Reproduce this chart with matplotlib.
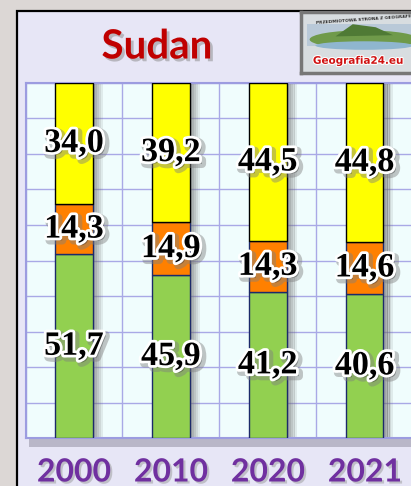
import numpy as np
import matplotlib
matplotlib.use("Agg")
import matplotlib.pyplot as plt
import matplotlib.patheffects as pe
from matplotlib.patches import Rectangle, Ellipse, Polygon

years = ["2000", "2010", "2020", "2021"]
green_vals = [51.7, 45.9, 41.2, 40.6]
orange_vals = [14.3, 14.9, 14.3, 14.6]
yellow_vals = [34.0, 39.2, 44.5, 44.8]

W, H = 411, 486
fig = plt.figure(figsize=(W / 100, H / 100), dpi=100)
fig.patch.set_facecolor("#dcd7d5")


def fx(px):
    return px / W


def fy(py):
    return 1 - py / H


# panel with black frame
fig.patches.append(Rectangle((fx(17), fy(500)), fx(420), fy(11) - fy(500),
                             transform=fig.transFigure, facecolor="#e7e6f6",
                             edgecolor="black", linewidth=1.6, zorder=-2))
# shadow under the plot box
fig.patches.append(Rectangle((fx(29), fy(447)), fx(400), fy(438) - fy(447),
                             transform=fig.transFigure, facecolor="#b9b7c8",
                             edgecolor="none", zorder=-1))

ax = fig.add_axes([fx(25.5), fy(438), fx(413) - fx(25.5), fy(83) - fy(438)])
ax.set_zorder(1)
ax.set_facecolor("#f0fdfd")
ax.set_xlim(-0.5, 3.5)
ax.set_ylim(0, 100)
ax.set_yticks(np.arange(0, 101, 10))
ax.set_xticks(np.arange(-0.5, 3.6, 1 / 3))
ax.grid(True, color="#a9a9e6", linewidth=1.0)
ax.tick_params(length=0, labelbottom=False, labelleft=False)
for s in ax.spines.values():
    s.set_color("#9c9ce0")
    s.set_linewidth(1.5)
ax.set_axisbelow(True)

x = np.arange(len(years))
bw = 0.39
green = np.array(green_vals)
orange = np.array(orange_vals)
yellow = np.array(yellow_vals)

# soft shadows right of the bars
for k, a in enumerate([0.6, 0.5, 0.38, 0.25, 0.12]):
    off = 0.02 * k
    ax.bar(x + bw / 2 + 0.012 + off, 100, width=0.021, bottom=0,
           color="#6a6a6a", alpha=a, linewidth=0, zorder=2)

ax.bar(x, green, width=bw, color="#92d050", edgecolor="#1c2a6a", linewidth=1, zorder=3)
ax.bar(x, orange, width=bw, bottom=green, color="#ff8000", edgecolor="#1c2a6a",
       linewidth=1, zorder=3)
ax.bar(x, yellow, width=bw, bottom=green + orange, color="#ffff00", edgecolor="black",
       linewidth=1, zorder=3)

lbl_fx = [pe.Stroke(linewidth=6, foreground="#808080", alpha=0.45, offset=(2, -2)),
          pe.Stroke(linewidth=4, foreground="white"), pe.Normal()]


def fmt(v):
    return f"{v:.1f}".replace(".", ",")


for i in range(len(years)):
    segs = [(green[i] / 2, green[i]),
            (green[i] + orange[i] / 2, orange[i]),
            (green[i] + orange[i] + yellow[i] / 2, yellow[i])]
    for yc, v in segs:
        ax.text(x[i], yc, fmt(v), ha="center", va="center", fontsize=24.5,
                fontweight="bold", family="Liberation Serif", color="black",
                path_effects=lbl_fx, zorder=5)

# year labels
for i, yr in enumerate(years):
    px = 74 + 97 * i
    fig.text(fx(px), fy(472), yr, ha="center", va="center", fontsize=23,
             fontweight="bold", family="Lato", color="#7030a0",
             path_effects=[pe.withSimplePatchShadow(offset=(1.5, -1.5),
                                                    shadow_rgbFace="#999999", alpha=0.5)])

# title
fig.text(fx(157), fy(47), "Sudan", ha="center", va="center", fontsize=29,
         fontweight="bold", family="Lato", color="#c00000",
         path_effects=[pe.withSimplePatchShadow(offset=(2, -2),
                                                shadow_rgbFace="#888888", alpha=0.5)])

# logo box
lax = fig.add_axes([fx(301), fy(73), fx(115), fy(12) - fy(73)])
lax.set_zorder(2)
lax.set_xlim(0, 1)
lax.set_ylim(0, 1)
lax.set_xticks([])
lax.set_yticks([])
lax.set_facecolor("#d8dde0")
for s in lax.spines.values():
    s.set_color("#777777")
    s.set_linewidth(2.5)
lax.add_patch(Rectangle((0.05, 0.45), 0.95, 0.35, facecolor="#b9c9d8", edgecolor="none"))
lax.add_patch(Ellipse((0.55, 0.55), 0.95, 0.3, facecolor="#6f9a4a", edgecolor="none"))
lax.add_patch(Ellipse((0.55, 0.45), 0.85, 0.14, facecolor="#8fb6cf", edgecolor="none"))
lax.add_patch(Polygon([[0.3, 0.6], [0.45, 0.8], [0.65, 0.75], [0.8, 0.62]],
                      facecolor="#4f7a35", edgecolor="none"))
lax.text(0.55, 0.87, "PRZEDMIOTOWA STRONA Z GEOGRAFII", ha="center", va="center",
         fontsize=3.2, fontweight="bold", color="#333333", rotation=4)
lax.text(0.5, 0.2, "Geografia24.eu", ha="center", va="center", fontsize=7.5,
         fontweight="bold", color="#d01010",
         path_effects=[pe.withStroke(linewidth=1.5, foreground="white")])

fig.savefig("out.png", dpi=100, facecolor=fig.get_facecolor())
